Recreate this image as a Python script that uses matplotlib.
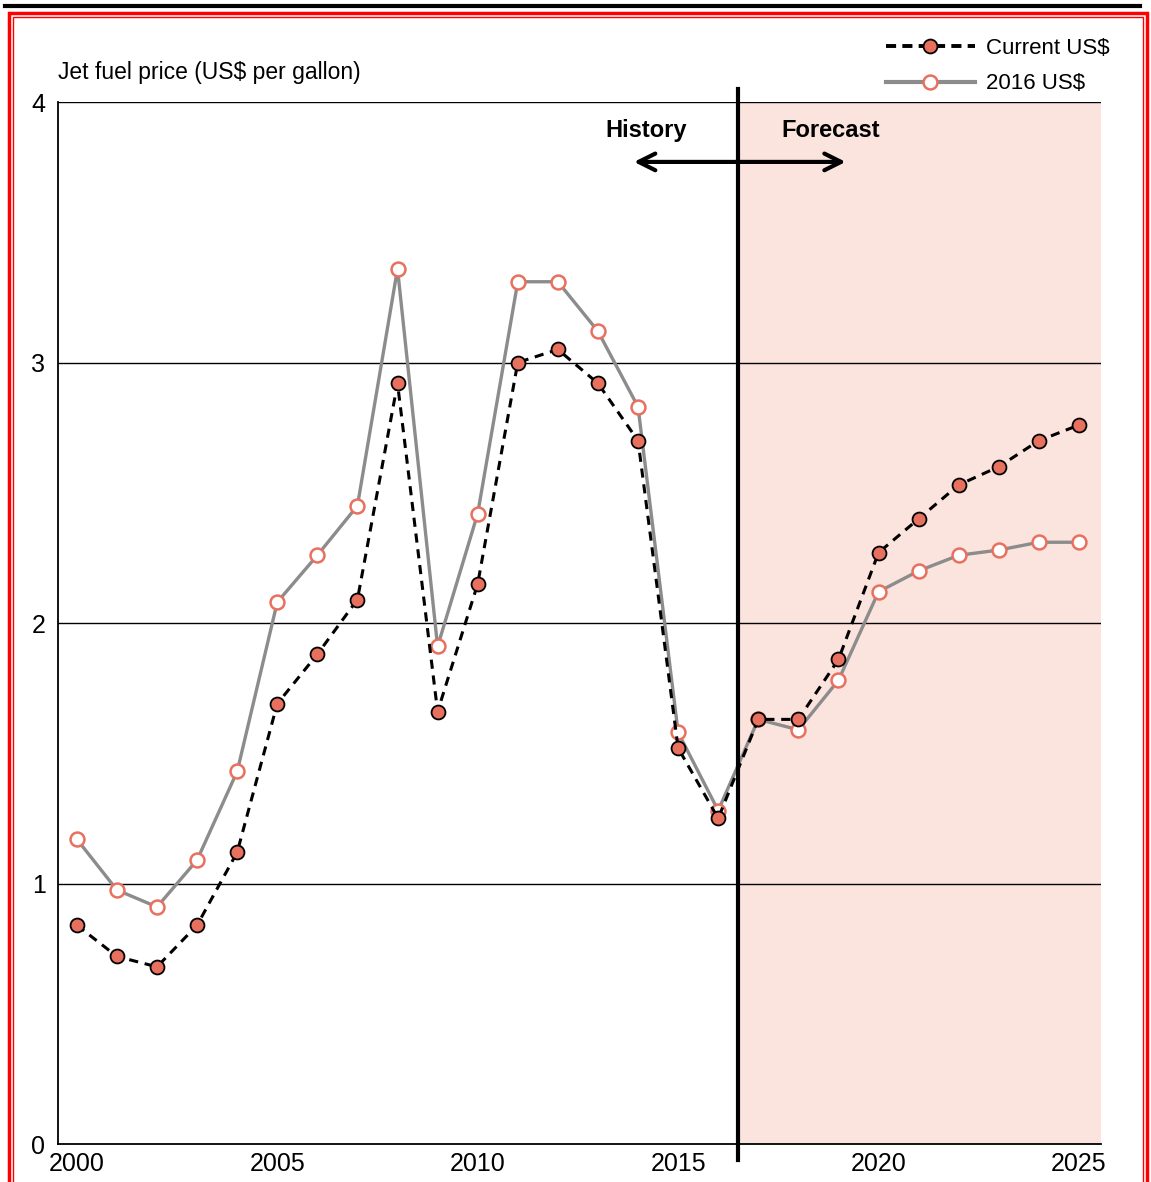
import numpy as np
import matplotlib.pyplot as plt
from matplotlib.patches import Rectangle
from matplotlib.lines import Line2D

plt.rcParams['font.family'] = ['Liberation Sans Narrow', 'Liberation Sans', 'DejaVu Sans']

# jet fuel price, US$ per gallon
years = list(range(2000, 2026))
current_usd = [0.84, 0.72, 0.68, 0.84, 1.12, 1.69, 1.88, 2.09, 2.92, 1.66,
               2.15, 3.00, 3.05, 2.92, 2.70, 1.52, 1.25, 1.63, 1.63, 1.86,
               2.27, 2.40, 2.53, 2.60, 2.70, 2.76]
real_2016_usd = [1.17, 0.975, 0.91, 1.09, 1.43, 2.08, 2.26, 2.45, 3.36, 1.91,
                 2.42, 3.31, 3.31, 3.12, 2.83, 1.58, 1.28, 1.63, 1.59, 1.78,
                 2.12, 2.20, 2.26, 2.28, 2.31, 2.31]
forecast_start = 2016.5
yticks = [0, 1, 2, 3, 4]
xticks = [2000, 2005, 2010, 2015, 2020, 2025]

salmon = '#E8705F'
shade = '#FCE4DE'

fig = plt.figure(figsize=(11.51, 11.82), dpi=100)
W, H = 1151, 1182
ax = fig.add_axes([58 / W, 1 - 1144 / H, (1101 - 58) / W, (1144 - 102) / H])

ax.set_xlim(1999.53, 2025.55)
ax.set_ylim(0, 4)

# forecast shading + divider
ax.axvspan(forecast_start, 2025.55, color=shade, zorder=0, lw=0)
for y in yticks[1:]:
    ax.axhline(y, color='black', lw=1, zorder=1)
ax.plot([forecast_start, forecast_start], [-0.06, 4.05], color='black', lw=3,
        clip_on=False, zorder=5)

ax.plot(years, real_2016_usd, color='#8C8C8C', lw=2.4, marker='o', ms=10,
        mfc='white', mec=salmon, mew=1.8, zorder=3)
ax.plot(years, current_usd, color='black', lw=2.2, ls=(0, (3, 2.2)),
        marker='o', ms=10, mfc=salmon, mec='black', mew=1.3, zorder=4)

# history / forecast arrow
ax.annotate('', xy=(2013.83, 3.77), xytext=(2019.25, 3.77),
            arrowprops=dict(arrowstyle='<->', lw=3, color='black',
                            mutation_scale=30), zorder=6)
ax.text(2014.2, 3.89, 'History', ha='center', va='center', fontsize=17,
        fontweight='bold')
ax.text(2018.8, 3.89, 'Forecast', ha='center', va='center', fontsize=17,
        fontweight='bold')

for s in ['top', 'right']:
    ax.spines[s].set_visible(False)
for s in ['left', 'bottom']:
    ax.spines[s].set_linewidth(1.3)
ax.set_yticks(yticks)
ax.set_xticks(xticks)
ax.tick_params(length=0, labelsize=18)
ax.tick_params(axis='y', pad=9)
ax.tick_params(axis='x', pad=6)

fig.text(58 / W, 1 - 72 / H, 'Jet fuel price (US$ per gallon)', fontsize=16.5,
         va='center', ha='left')

handles = [
    Line2D([], [], color='black', lw=2.8, ls=(0, (2.6, 1.6)), marker='o', ms=10,
           mfc=salmon, mec='black', mew=1.3),
    Line2D([], [], color='#8C8C8C', lw=3, marker='o', ms=10,
           mfc='white', mec=salmon, mew=1.8),
]
fig.legend(handles, ['Current US$', '2016 US$'], loc='upper left',
           bbox_to_anchor=(866 / W, 1 - 18 / H), frameon=False, fontsize=16,
           handlelength=4.0, handletextpad=0.5, labelspacing=0.65)

# frame around the figure
fig.add_artist(Line2D([5 / W, 1140 / W], [1 - 6 / H, 1 - 6 / H], color='black',
                      lw=3, transform=fig.transFigure))
fig.add_artist(Rectangle((9 / W, -0.01), 1138 / W, 1 - 13 / H + 0.01,
                         fill=False, ec='red', lw=2.5, transform=fig.transFigure))
fig.add_artist(Rectangle((13 / W, -0.01), 1130 / W, 1 - 17 / H + 0.01,
                         fill=False, ec='red', lw=1, transform=fig.transFigure))

fig.savefig('out.png', dpi=100)
